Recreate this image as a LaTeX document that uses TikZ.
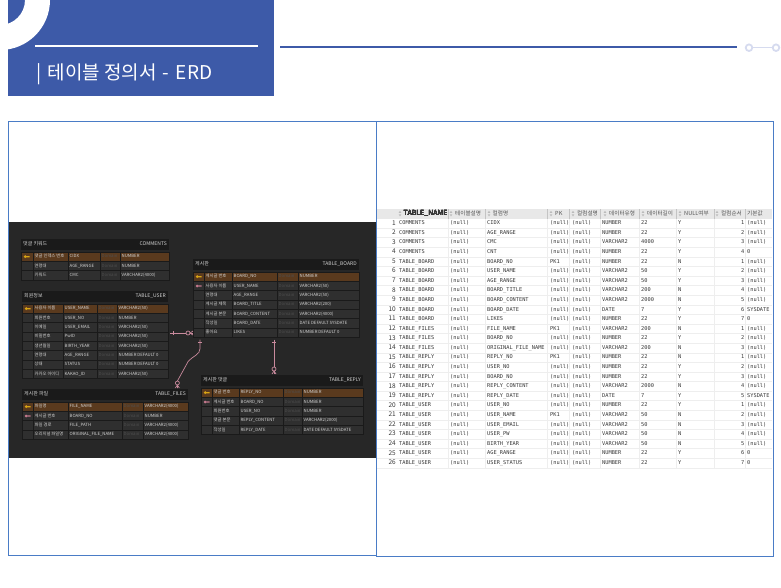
\documentclass[tikz,border=0pt]{standalone}
\usepackage{fontspec}
\setmainfont{Noto Sans CJK KR}
\newfontfamily\datafont{DejaVu Sans Mono}
\usetikzlibrary{calc}

\definecolor{hdrblue}{HTML}{3D5AA8}
\definecolor{frameblue}{HTML}{4A7CC6}
\definecolor{iconblue}{HTML}{D6DBEF}
\definecolor{erdbg}{HTML}{272727}
\definecolor{tblhead}{HTML}{1A1A1A}
\definecolor{rowbg}{HTML}{2F2F2F}
\definecolor{pkrow}{HTML}{5A3A1E}
\definecolor{erdtext}{HTML}{D2D2D2}
\definecolor{domtext}{HTML}{4E4E4E}
\definecolor{keyy}{HTML}{D9A514}
\definecolor{keyp}{HTML}{C4788C}
\definecolor{linkpink}{HTML}{C98A9D}
\definecolor{gridhead}{HTML}{E8E8E8}
\definecolor{gridline}{HTML}{EEEEEE}
\definecolor{headsep}{HTML}{C4C4C4}
\definecolor{sortgray}{HTML}{BBBBBB}
\definecolor{celltext}{HTML}{363636}

\tikzset{
  erdtitle/.style={text=erdtext, font=\fontsize{5}{6}\selectfont, inner sep=0, text height=3.6pt, text depth=1pt},
  erdcell/.style={text=erdtext, font=\fontsize{4.3}{5}\selectfont, inner sep=0, anchor=west, text height=3.2pt, text depth=.9pt},
  domcell/.style={erdcell, text=domtext},
  link/.style={draw=linkpink, line width=.7pt},
  colhead/.style={text=celltext!85, font=\fontsize{5.6}{6}\selectfont, inner sep=0, anchor=west},
  rownum/.style={text=celltext, font=\fontsize{6.5}{7}\selectfont, inner sep=0, anchor=east, text height=4.7pt, text depth=1.3pt},
  datacell/.style={text=celltext, font=\datafont\fontsize{5.3}{6}\selectfont, inner sep=0, anchor=west, text height=3.9pt, text depth=1.1pt},
}

% #1 name, #2 left, #3 right, #4 top, #5 rows, #6 logical name, #7 table name, #8 columns, #9 row list
\newcommand{\erdtable}[9]{%
  \fill[tblhead] (#2,#4) rectangle (#3,#4+11);
  \node[erdtitle, anchor=west] (#1-kr) at (#2+2,#4+5.5) {#6};
  \node[erdtitle, anchor=east] (#1-en) at (#3-2,#4+5.5) {#7};
  \foreach \ca/\cb/\cc/\cd in {#8}{
    \foreach \rc/\ic/\kn/\cn/\ty [count=\i] in {#9}{
      \pgfmathsetmacro\yt{#4+13+(\i-1)*9.33}
      \pgfmathsetmacro\yb{\yt+9.33}
      \pgfmathsetmacro\ym{\yt+4.67}
      \fill[\rc, draw=tblhead, line width=.5pt] (#2,\yt) rectangle (#3,\yb);
      \draw[tblhead, line width=.5pt] (\ca,\yt) -- (\ca,\yb) (\cb,\yt) -- (\cb,\yb)
        (\cc,\yt) -- (\cc,\yb) (\cd,\yt) -- (\cd,\yb);
      \path[fill=\ic] (#2+4.2,\ym) circle (1.5pt) (#2+5,\ym-0.6) rectangle (#2+8.5,\ym+0.6);
      \node[erdcell] (#1-\i-k) at (\ca+1.5,\ym) {\kn};
      \node[erdcell] (#1-\i-c) at (\cb+1.5,\ym) {\cn};
      \node[domcell] (#1-\i-d) at (\cc+1.5,\ym) {Domain};
      \node[erdcell] (#1-\i-t) at (\cd+1.5,\ym) {\ty};
    }
  }
  \node[inner sep=0, anchor=north west, minimum width={(#3-#2)*1pt},
    minimum height={(13+#5*9.33)*1pt}] (#1) at (#2,#4) {};
}

\newcommand{\sorticon}[1]{%
  \fill[sortgray] (#1-1.3,212.8) -- (#1+1.3,212.8) -- (#1,210.8) -- cycle
    (#1-1.3,214.4) -- (#1+1.3,214.4) -- (#1,216.4) -- cycle;
}

\begin{document}
\begin{tikzpicture}[x=1pt, y=-1pt]
\useasboundingbox (0,0) rectangle (781,587);

% title bar
\begin{scope}
  \clip (8,0) rectangle (274,96);
  \fill[hdrblue] (8,0) rectangle (274,96);
  \fill[white, even odd rule] (0,0) circle (50pt) (0,0) circle (25pt);
\end{scope}
\draw[white, line width=2pt] (35,45.5) -- (258,45.5);
\node[anchor=west, text=white, font=\fontsize{19}{22}\selectfont, inner sep=0] (title) at (36,74) {|\hspace{2pt} 테이블 정의서\hspace{2pt} -\hspace{2pt} ERD};
\draw[hdrblue, line width=2pt] (280,46.7) -- (737,46.7);
\draw[iconblue, line width=1.8pt] (749,47.7) circle (3.3pt) (776,47.7) circle (3.3pt);
\draw[iconblue, line width=1.2pt] (752.3,47.7) -- (772.7,47.7);

% ERD picture
\fill[erdbg] (8.3,222) rectangle (376.5,458);

\erdtable{comments}{21}{169}{239}{3}{댓글 키워드}{COMMENTS}{33/68/100/120}{
  pkrow/keyy/댓글 인덱스 번호/CIDX/NUMBER,
  rowbg/none/연령대/AGE\_RANGE/NUMBER,
  rowbg/none/키워드/CMC/VARCHAR2(4000)}

\erdtable{tuser}{22}{168}{291}{8}{회원정보}{TABLE\_USER}{33/63/97/117}{
  pkrow/keyy/사용자 이름/USER\_NAME/VARCHAR2(50),
  rowbg/none/회원번호/USER\_NO/NUMBER,
  rowbg/none/이메일/USER\_EMAIL/VARCHAR2(50),
  rowbg/none/비밀번호/PwID/VARCHAR2(50),
  rowbg/none/생년월일/BIRTH\_YEAR/VARCHAR2(50),
  rowbg/none/연령대/AGE\_RANGE/NUMBER DEFAULT 0,
  rowbg/none/상태/STATUS/NUMBER DEFAULT 0,
  rowbg/none/카카오 아이디/KAKAO\_ID/VARCHAR2(50)}

\erdtable{tboard}{193}{359}{259}{7}{게시판}{TABLE\_BOARD}{204/232/277/298}{
  pkrow/keyy/게시글 번호/BOARD\_NO/NUMBER,
  rowbg/keyp/사용자 이름/USER\_NAME/VARCHAR2(50),
  rowbg/none/연령대/AGE\_RANGE/VARCHAR2(50),
  rowbg/none/게시글 제목/BOARD\_TITLE/VARCHAR2(200),
  rowbg/none/게시글 본문/BOARD\_CONTENT/VARCHAR2(4000),
  rowbg/none/작성일/BOARD\_DATE/DATE DEFAULT SYSDATE,
  rowbg/none/좋아요/LIKES/NUMBER DEFAULT 0}

\erdtable{tfiles}{22}{188}{389}{4}{게시판 파일}{TABLE\_FILES}{33/68/122/143}{
  pkrow/keyy/파일명/FILE\_NAME/VARCHAR2(4000),
  rowbg/keyp/게시글 번호/BOARD\_NO/NUMBER,
  rowbg/none/파일 경로/FILE\_PATH/VARCHAR2(4000),
  rowbg/none/오리지널 파일명/ORIGINAL\_FILE\_NAME/VARCHAR2(4000)}

\erdtable{treply}{201}{363}{375}{5}{게시판 댓글}{TABLE\_REPLY}{212/239/283/302}{
  pkrow/keyy/댓글 번호/REPLY\_NO/NUMBER,
  rowbg/keyp/게시글 번호/BOARD\_NO/NUMBER,
  rowbg/none/회원번호/USER\_NO/NUMBER,
  rowbg/none/댓글 본문/REPLY\_CONTENT/VARCHAR2(2000),
  rowbg/none/작성일/REPLY\_DATE/DATE DEFAULT SYSDATE}

% relations
\coordinate (ubL) at ($(tuser.north east)+(2,42)$);
\coordinate (ubR) at (ubL -| tboard.west);
\draw[link] (ubL) -- (ubR);
\draw[link] ($(ubL)+(3,-2)$) -- ($(ubL)+(3,2)$);
\draw[link, fill=erdbg] ($(ubR)+(-5,0)$) circle (2pt);
\draw[link] ($(ubR)+(-3,0)$) -- ($(ubR)+(0,-2)$) ($(ubR)+(-3,0)$) -- ($(ubR)+(0,2)$);

\coordinate (bf1) at ($(tboard.south west)+(7,2)$);
\coordinate (bf2) at ($(tfiles.north east)+(-11,-1)$);
\draw[link] (bf1) -- ++(0,9) .. controls +(0,6) and +(5,-6) .. ++(-12,13) -- ($(bf2)+(0,-7)$) -- (bf2);
\draw[link] ($(bf1)+(-2,3)$) -- ($(bf1)+(2,3)$);
\draw[link, fill=erdbg] ($(bf2)+(0,-5)$) circle (2pt);
\draw[link] ($(bf2)+(0,-3)$) -- ($(bf2)+(-2,0)$) ($(bf2)+(0,-3)$) -- ($(bf2)+(2,0)$);

\coordinate (br1) at ($(tboard.south west)+(81,2)$);
\coordinate (br2) at ($(br1 |- treply.north)+(0,-1)$);
\draw[link] (br1) -- (br2);
\draw[link] ($(br1)+(-2,3)$) -- ($(br1)+(2,3)$);
\draw[link, fill=erdbg] ($(br2)+(0,-5)$) circle (2pt);
\draw[link] ($(br2)+(0,-3)$) -- ($(br2)+(-2,0)$) ($(br2)+(0,-3)$) -- ($(br2)+(2,0)$);

% column list
\fill[gridhead] (377,209) rectangle (772,218.5);
\foreach \k in {1,...,26}
  \draw[gridline, line width=.5pt] (377,{218.5+\k*9.59}) -- (772,{218.5+\k*9.59});
\foreach \xx in {448,485.5,547.5,569.5,600.5,639.5,676.5,714.5,745.5}{
  \draw[gridline, line width=.5pt] (\xx,218.5) -- (\xx,468);
  \draw[headsep, line width=.5pt] (\xx,209) -- (\xx,218.5);
}
\foreach \xx in {400,451,489,551,573,605,643,680,717}
  \sorticon{\xx}
\node[colhead, text=celltext, font=\fontsize{7}{8}\selectfont] (h1) at (403.5,213.8) {TABLE\_NAME};
\node[colhead] (h2) at (455,213.8) {테이블설명};
\node[colhead] (h3) at (492.5,213.8) {컬럼명};
\node[colhead] (h4) at (555,213.8) {PK};
\node[colhead] (h5) at (577,213.8) {컬럼설명};
\node[colhead] (h6) at (609,213.8) {데이터유형};
\node[colhead] (h7) at (647,213.8) {데이터길이};
\node[colhead] (h8) at (684,213.8) {NULL여부};
\node[colhead] (h9) at (721,213.8) {컬럼순서};
\node[colhead] (h10) at (747,213.8) {기본값};

\foreach \tn/\cn/\pk/\ty/\ln/\nl/\od/\dv [count=\i] in {
  COMMENTS/CIDX/(null)/NUMBER/22/Y/1/(null),
  COMMENTS/AGE\_RANGE/(null)/NUMBER/22/Y/2/(null),
  COMMENTS/CMC/(null)/VARCHAR2/4000/Y/3/(null),
  COMMENTS/CNT/(null)/NUMBER/22/Y/4/0,
  TABLE\_BOARD/BOARD\_NO/PK1/NUMBER/22/N/1/(null),
  TABLE\_BOARD/USER\_NAME/(null)/VARCHAR2/50/Y/2/(null),
  TABLE\_BOARD/AGE\_RANGE/(null)/VARCHAR2/50/Y/3/(null),
  TABLE\_BOARD/BOARD\_TITLE/(null)/VARCHAR2/200/N/4/(null),
  TABLE\_BOARD/BOARD\_CONTENT/(null)/VARCHAR2/2000/N/5/(null),
  TABLE\_BOARD/BOARD\_DATE/(null)/DATE/7/Y/6/SYSDATE,
  TABLE\_BOARD/LIKES/(null)/NUMBER/22/Y/7/0,
  TABLE\_FILES/FILE\_NAME/PK1/VARCHAR2/200/N/1/(null),
  TABLE\_FILES/BOARD\_NO/(null)/NUMBER/22/Y/2/(null),
  TABLE\_FILES/ORIGINAL\_FILE\_NAME/(null)/VARCHAR2/200/N/3/(null),
  TABLE\_REPLY/REPLY\_NO/PK1/NUMBER/22/N/1/(null),
  TABLE\_REPLY/USER\_NO/(null)/NUMBER/22/Y/2/(null),
  TABLE\_REPLY/BOARD\_NO/(null)/NUMBER/22/Y/3/(null),
  TABLE\_REPLY/REPLY\_CONTENT/(null)/VARCHAR2/2000/N/4/(null),
  TABLE\_REPLY/REPLY\_DATE/(null)/DATE/7/Y/5/SYSDATE,
  TABLE\_USER/USER\_NO/(null)/NUMBER/22/Y/1/(null),
  TABLE\_USER/USER\_NAME/PK1/VARCHAR2/50/N/2/(null),
  TABLE\_USER/USER\_EMAIL/(null)/VARCHAR2/50/N/3/(null),
  TABLE\_USER/USER\_PW/(null)/VARCHAR2/50/N/4/(null),
  TABLE\_USER/BIRTH\_YEAR/(null)/VARCHAR2/50/N/5/(null),
  TABLE\_USER/AGE\_RANGE/(null)/NUMBER/22/Y/6/0,
  TABLE\_USER/USER\_STATUS/(null)/NUMBER/22/Y/7/0}{
  \pgfmathsetmacro\yr{223.3+(\i-1)*9.59}
  \node[rownum] (r\i-n) at (396,\yr) {\i};
  \node[datacell] (r\i-t) at (399,\yr) {\tn};
  \node[datacell] (r\i-s) at (450,\yr) {(null)};
  \node[datacell] (r\i-c) at (487,\yr) {\cn};
  \node[datacell] (r\i-p) at (550,\yr) {\pk};
  \node[datacell] (r\i-e) at (572,\yr) {(null)};
  \node[datacell] (r\i-y) at (602,\yr) {\ty};
  \node[datacell] (r\i-l) at (641,\yr) {\ln};
  \node[datacell] (r\i-u) at (678,\yr) {\nl};
  \node[datacell, anchor=east] (r\i-o) at (744.5,\yr) {\od};
  \node[datacell] (r\i-v) at (747,\yr) {\dv};
}

% frames
\draw[frameblue, line width=.9pt] (8.3,121) rectangle (376.5,555);
\draw[frameblue, line width=.9pt] (376.5,121.5) rectangle (773,556);
\end{tikzpicture}
\end{document}
